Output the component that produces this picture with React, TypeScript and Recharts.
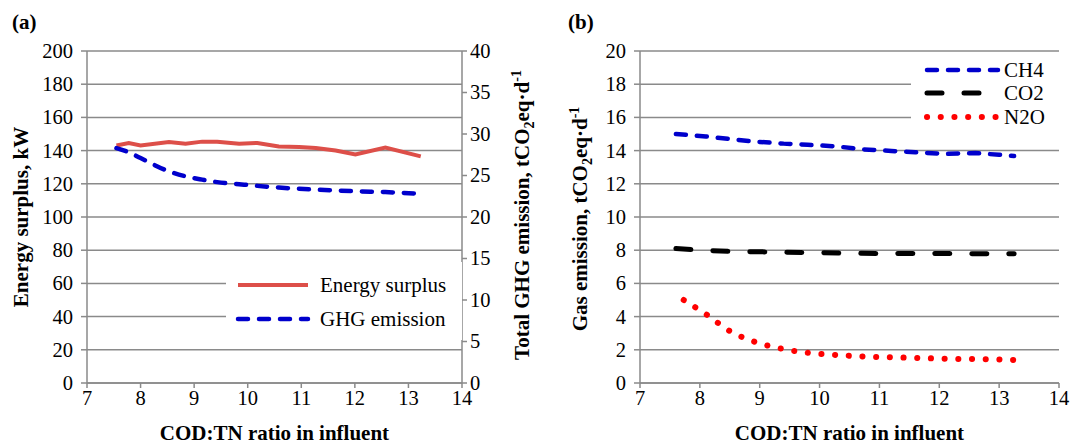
import { LineChart, Line, XAxis, YAxis, CartesianGrid, Legend } from 'recharts';

const FONT = "'Liberation Serif', 'Times New Roman', serif";
const GRID = '#8a8a8a';

// panel (a): energy surplus (kW, left) and total GHG (tCO2eq/d, right)
const ratioA = [7.55, 7.78, 8.0, 8.53, 8.84, 9.15, 9.43, 9.84, 10.18, 10.58, 10.96, 11.27, 11.64, 12.01, 12.57, 13.23];
const energySurplus = [143.1, 144.6, 143.1, 145.2, 144.2, 145.4, 145.4, 144.2, 144.6, 142.5, 142.2, 141.6, 140.1, 137.7, 141.9, 136.5];
const ghgEmission = [28.3, 27.8, 27.1, 25.5, 24.9, 24.5, 24.2, 23.95, 23.75, 23.55, 23.4, 23.3, 23.2, 23.1, 23.0, 22.8];

// panel (b): gas emissions
const ratioB = [7.6, 8.1, 8.5, 8.9, 9.4, 9.8, 10.3, 10.7, 11.2, 11.6, 12.1, 12.6, 13.0, 13.25];
const ch4 = [15.0, 14.85, 14.7, 14.55, 14.42, 14.35, 14.25, 14.08, 13.98, 13.9, 13.8, 13.85, 13.75, 13.67];
const co2 = [8.1, 7.98, 7.93, 7.91, 7.88, 7.86, 7.83, 7.81, 7.8, 7.8, 7.8, 7.79, 7.79, 7.79];
const ratioN2O = [7.73, 8.12, 8.49, 8.91, 9.36, 9.82, 10.27, 10.73, 11.19, 11.65, 12.1, 12.56, 13.02, 13.25];
const n2o = [5.0, 4.1, 3.15, 2.49, 2.07, 1.81, 1.69, 1.6, 1.55, 1.51, 1.46, 1.44, 1.42, 1.39];

const xTicks = [7, 8, 9, 10, 11, 12, 13, 14];
const energyTicks = [0, 20, 40, 60, 80, 100, 120, 140, 160, 180, 200];
const ghgTicks = [0, 5, 10, 15, 20, 25, 30, 35, 40];
const gasTicks = [0, 2, 4, 6, 8, 10, 12, 14, 16, 18, 20];

const dataA = ratioA.map((x, i) => ({ x, energy: energySurplus[i], ghg: ghgEmission[i] }));
const dataB = ratioB.map((x, i) => ({ x, ch4: ch4[i], co2: co2[i] }));
const dataN2O = ratioN2O.map((x, i) => ({ x, n2o: n2o[i] }));

const styles = {
  energy: { stroke: '#dd4f49', strokeWidth: 4 },
  ghg: { stroke: '#0000cc', strokeWidth: 4.5, strokeDasharray: '10 11', strokeLinecap: 'round' as const },
  ch4: { stroke: '#0000cc', strokeWidth: 4.5, strokeDasharray: '10 11', strokeLinecap: 'round' as const },
  co2: { stroke: '#000000', strokeWidth: 5, strokeDasharray: '15 22', strokeLinecap: 'round' as const },
  n2o: { stroke: '#ff0000', strokeWidth: 6, strokeDasharray: '0.1 13.6', strokeLinecap: 'round' as const },
};

const textStyle: React.CSSProperties = { fontFamily: FONT };
const axisLine = { stroke: GRID, strokeWidth: 1.5 };

function makeTick(anchor: 'start' | 'middle' | 'end', dy: string) {
  return (props: any) => (
    <text x={props.x} y={props.y} dy={dy} textAnchor={anchor} fontSize={20.5} fill="#000" style={textStyle}>
      {props.payload.value}
    </text>
  );
}
const xTick = makeTick('middle', '0.71em');
const leftTick = makeTick('end', '0.34em');
const rightTick = makeTick('start', '0.34em');

function vTitle(main: string, dx: number, dyCenter = 0) {
  return (props: any) => {
    const vb = props.viewBox || { x: 0, y: 51, width: 0, height: 332 };
    const x = vb.x + dx;
    const y = vb.y + vb.height / 2 + dyCenter;
    return (
      <text x={x} y={y} transform={`rotate(-90, ${x}, ${y})`} textAnchor="middle"
        fontSize={21} fontWeight="bold" fill="#000" style={textStyle}>
        <tspan>{main}</tspan>
        <tspan dy={5} fontSize={14}>2</tspan>
        <tspan dy={-5}>eq·d</tspan>
        <tspan dy={-8} fontSize={14}>-1</tspan>
      </text>
    );
  };
}

function plainVTitle(main: string, dx: number) {
  return (props: any) => {
    const vb = props.viewBox || { x: 0, y: 51, width: 0, height: 332 };
    const x = vb.x + dx;
    const y = vb.y + vb.height / 2;
    return (
      <text x={x} y={y} transform={`rotate(-90, ${x}, ${y})`} textAnchor="middle"
        fontSize={21} fontWeight="bold" fill="#000" style={textStyle}>{main}</text>
    );
  };
}

function xTitle(props: any) {
  const vb = props.viewBox || { x: 87, y: 383, width: 375, height: 62 };
  return (
    <text x={vb.x + vb.width / 2} y={vb.y + 57} textAnchor="middle"
      fontSize={21} fontWeight="bold" fill="#000" style={textStyle}>COD:TN ratio in influent</text>
  );
}

type Item = { label: string; style: any };

function LegendBox({ items, width, height, rowY, sampleX, textX }: {
  items: Item[]; width: number; height: number; rowY: number[]; sampleX: [number, number]; textX: number;
}) {
  return (
    <svg width={width} height={height} style={{ background: '#fff', display: 'block' }}>
      {items.map((it, i) => (
        <g key={it.label}>
          <line x1={sampleX[0]} x2={sampleX[1]} y1={rowY[i]} y2={rowY[i]} {...it.style} />
          <text x={textX} y={rowY[i]} dy="0.34em" fontSize={21} fill="#000" style={textStyle}>{it.label}</text>
        </g>
      ))}
    </svg>
  );
}

function PanelA() {
  return (
    <LineChart width={560} height={445} data={dataA} margin={{ top: 51, right: 25, bottom: 0, left: 0 }}>
      <CartesianGrid yAxisId="left" vertical={false} stroke={GRID} strokeWidth={1.5} />
      <XAxis dataKey="x" type="number" domain={[7, 14]} ticks={xTicks} height={62}
        axisLine={axisLine} tickLine={axisLine} tickSize={5} tickMargin={2} tick={xTick}
        label={{ content: xTitle }} />
      <YAxis yAxisId="left" domain={[0, 200]} ticks={energyTicks} width={87}
        axisLine={axisLine} tickLine={axisLine} tickSize={6} tickMargin={8} tick={leftTick}
        label={{ content: plainVTitle('Energy surplus, kW', 28) }} />
      <YAxis yAxisId="right" orientation="right" domain={[0, 40]} ticks={ghgTicks} width={73}
        axisLine={axisLine} tickLine={axisLine} tickSize={5} tickMargin={3} tick={rightTick}
        label={{ content: vTitle('Total GHG emission, tCO', 67, -2) }} />
      <Legend layout="vertical" align="center" verticalAlign="middle"
        wrapperStyle={{ left: 226, top: 262, width: 236, height: 78 }}
        content={() => (
          <LegendBox width={236} height={78} rowY={[23, 57]} sampleX={[12, 82]} textX={94}
            items={[{ label: 'Energy surplus', style: styles.energy }, { label: 'GHG emission', style: styles.ghg }]} />
        )} />
      <Line yAxisId="left" dataKey="energy" type="linear" dot={false} isAnimationActive={false} {...styles.energy} />
      <Line yAxisId="right" dataKey="ghg" type="monotone" dot={false} isAnimationActive={false} {...styles.ghg} />
    </LineChart>
  );
}

function PanelB() {
  return (
    <LineChart width={536} height={445} data={dataB} margin={{ top: 51, right: 12, bottom: 0, left: 0 }}>
      <CartesianGrid vertical={false} stroke={GRID} strokeWidth={1.5} />
      <XAxis dataKey="x" type="number" domain={[7, 14]} ticks={xTicks} height={62}
        axisLine={axisLine} tickLine={axisLine} tickSize={5} tickMargin={2} tick={xTick}
        label={{ content: xTitle }} />
      <YAxis domain={[0, 20]} ticks={gasTicks} width={105}
        axisLine={axisLine} tickLine={axisLine} tickSize={6} tickMargin={8} tick={leftTick}
        label={{ content: vTitle('Gas emission, tCO', 52, 2) }} />
      <Legend layout="vertical" align="center" verticalAlign="middle"
        wrapperStyle={{ left: 376, top: 55, width: 148, height: 76 }}
        content={() => (
          <LegendBox width={148} height={76} rowY={[15, 38, 62]} sampleX={[16, 87]} textX={93}
            items={[
              { label: 'CH4', style: styles.ch4 },
              { label: 'CO2', style: styles.co2 },
              { label: 'N2O', style: styles.n2o },
            ]} />
        )} />
      <Line dataKey="ch4" type="linear" dot={false} isAnimationActive={false} {...styles.ch4} />
      <Line dataKey="co2" type="linear" dot={false} isAnimationActive={false} {...styles.co2} />
      <Line data={dataN2O} dataKey="n2o" type="monotone" dot={false} isAnimationActive={false} {...styles.n2o} />
    </LineChart>
  );
}

const panelLabel: React.CSSProperties = {
  position: 'absolute', top: 12, fontFamily: FONT, fontSize: 21, fontWeight: 'bold', lineHeight: '21px',
};

export default function App() {
  return (
    <div style={{ position: 'absolute', left: 0, top: 0, width: 1071, height: 445, background: '#fff', fontFamily: FONT }}>
      <div style={{ position: 'absolute', left: 0, top: 0 }}><PanelA /></div>
      <div style={{ position: 'absolute', left: 535, top: 0 }}><PanelB /></div>
      <div style={{ ...panelLabel, left: 12 }}>(a)</div>
      <div style={{ ...panelLabel, left: 568 }}>(b)</div>
    </div>
  );
}
